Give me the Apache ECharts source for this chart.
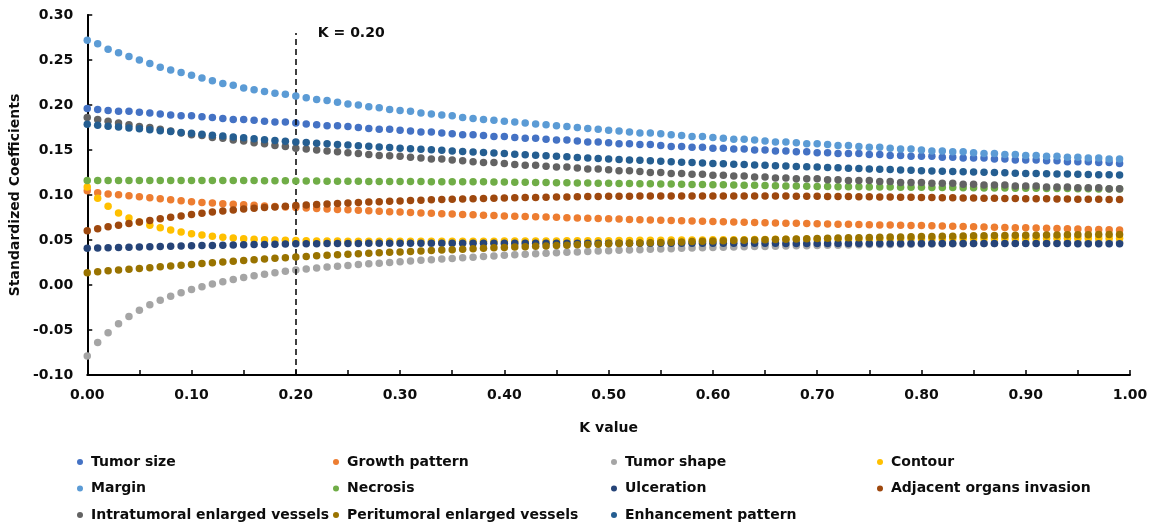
<!DOCTYPE html>
<html>
<head>
<meta charset="utf-8">
<script src="https://cdn.jsdelivr.net/npm/echarts@6/dist/echarts.min.js"></script>
<style>
html,body{margin:0;padding:0;background:#fff;}
#chart{width:1153px;height:527px;}
</style>
</head>
<body>
<div id="chart"></div>
<script>
// K values (x)
const kValues = [
 0.00,0.01,0.02,0.03,0.04,0.05,0.06,0.07,0.08,0.09,
 0.10,0.11,0.12,0.13,0.14,0.15,0.16,0.17,0.18,0.19,
 0.20,0.21,0.22,0.23,0.24,0.25,0.26,0.27,0.28,0.29,
 0.30,0.31,0.32,0.33,0.34,0.35,0.36,0.37,0.38,0.39,
 0.40,0.41,0.42,0.43,0.44,0.45,0.46,0.47,0.48,0.49,
 0.50,0.51,0.52,0.53,0.54,0.55,0.56,0.57,0.58,0.59,
 0.60,0.61,0.62,0.63,0.64,0.65,0.66,0.67,0.68,0.69,
 0.70,0.71,0.72,0.73,0.74,0.75,0.76,0.77,0.78,0.79,
 0.80,0.81,0.82,0.83,0.84,0.85,0.86,0.87,0.88,0.89,
 0.90,0.91,0.92,0.93,0.94,0.95,0.96,0.97,0.98,0.99
];

const tumorSize = [
 0.196,0.195,0.194,0.193,0.193,0.192,0.191,0.190,0.189,0.188,
 0.188,0.187,0.186,0.185,0.184,0.184,0.183,0.182,0.181,0.181,
 0.180,0.179,0.178,0.177,0.177,0.176,0.175,0.174,0.173,0.173,
 0.172,0.171,0.170,0.170,0.169,0.168,0.167,0.167,0.166,0.165,
 0.165,0.164,0.163,0.163,0.162,0.161,0.161,0.160,0.159,0.159,
 0.158,0.157,0.157,0.156,0.156,0.155,0.154,0.154,0.153,0.153,
 0.152,0.152,0.151,0.151,0.150,0.150,0.149,0.149,0.148,0.148,
 0.147,0.147,0.146,0.146,0.146,0.145,0.145,0.144,0.144,0.143,
 0.143,0.143,0.142,0.142,0.141,0.141,0.141,0.140,0.140,0.139,
 0.139,0.139,0.138,0.138,0.137,0.137,0.137,0.136,0.136,0.135
];

const growthPattern = [
 0.1048,0.1026,0.1011,0.1004,0.0993,0.0981,0.0970,0.0959,0.0948,0.0937,
 0.0926,0.0918,0.0911,0.0904,0.0897,0.0891,0.0885,0.0879,0.0873,0.0866,
 0.0860,0.0855,0.0850,0.0845,0.0840,0.0835,0.0830,0.0825,0.0820,0.0815,
 0.0810,0.0805,0.0800,0.0796,0.0792,0.0788,0.0784,0.0780,0.0776,0.0772,
 0.0768,0.0765,0.0762,0.0758,0.0755,0.0752,0.0748,0.0745,0.0742,0.0738,
 0.0735,0.0732,0.0729,0.0726,0.0723,0.0720,0.0717,0.0714,0.0711,0.0708,
 0.0705,0.0702,0.0700,0.0697,0.0695,0.0692,0.0690,0.0687,0.0685,0.0682,
 0.0680,0.0678,0.0676,0.0674,0.0672,0.0670,0.0668,0.0666,0.0664,0.0662,
 0.0660,0.0657,0.0655,0.0652,0.0650,0.0647,0.0645,0.0642,0.0640,0.0637,
 0.0635,0.0632,0.0630,0.0627,0.0624,0.0621,0.0618,0.0616,0.0613,0.0610
];

const tumorShape = [
 -0.0790,-0.0640,-0.0530,-0.0430,-0.0350,-0.0280,-0.0220,-0.0170,-0.0125,-0.0085,
 -0.0050,-0.0020,0.0010,0.0036,0.0060,0.0082,0.0102,0.0120,0.0137,0.0152,
 0.0167,0.0178,0.0189,0.0199,0.0209,0.0218,0.0227,0.0235,0.0243,0.0251,
 0.0258,0.0266,0.0274,0.0281,0.0288,0.0295,0.0302,0.0309,0.0316,0.0323,
 0.0330,0.0336,0.0342,0.0348,0.0353,0.0358,0.0363,0.0368,0.0373,0.0377,
 0.0381,0.0385,0.0389,0.0393,0.0397,0.0401,0.0404,0.0407,0.0410,0.0413,
 0.0416,0.0419,0.0422,0.0425,0.0427,0.0429,0.0431,0.0433,0.0435,0.0437,
 0.0439,0.0441,0.0443,0.0445,0.0447,0.0449,0.0450,0.0451,0.0453,0.0454,
 0.0455,0.0456,0.0457,0.0458,0.0459,0.0460,0.0461,0.0462,0.0463,0.0464,
 0.0465,0.0466,0.0467,0.0468,0.0469,0.0470,0.0470,0.0471,0.0471,0.0472
];

const contour = [
 0.1090,0.0965,0.0875,0.0800,0.0745,0.0700,0.0665,0.0635,0.0610,0.0588,
 0.0570,0.0555,0.0542,0.0531,0.0522,0.0515,0.0509,0.0504,0.0500,0.0497,
 0.0494,0.0492,0.0490,0.0489,0.0488,0.0487,0.0486,0.0486,0.0486,0.0486,
 0.0486,0.0486,0.0486,0.0486,0.0486,0.0486,0.0487,0.0487,0.0487,0.0487,
 0.0488,0.0488,0.0489,0.0489,0.0490,0.0490,0.0491,0.0491,0.0492,0.0492,
 0.0493,0.0494,0.0495,0.0496,0.0497,0.0498,0.0499,0.0500,0.0500,0.0501,
 0.0502,0.0503,0.0504,0.0504,0.0505,0.0506,0.0507,0.0507,0.0508,0.0509,
 0.0509,0.0510,0.0510,0.0511,0.0511,0.0512,0.0512,0.0513,0.0513,0.0514,
 0.0514,0.0515,0.0515,0.0516,0.0516,0.0516,0.0517,0.0517,0.0517,0.0518,
 0.0518,0.0518,0.0519,0.0519,0.0519,0.0520,0.0520,0.0520,0.0520,0.0520
];

const margin = [
 0.272,0.268,0.262,0.258,0.254,0.250,0.246,0.242,0.239,0.236,
 0.233,0.230,0.227,0.224,0.222,0.219,0.217,0.215,0.213,0.212,
 0.210,0.208,0.206,0.205,0.203,0.201,0.200,0.198,0.197,0.195,
 0.194,0.193,0.191,0.190,0.189,0.188,0.186,0.185,0.184,0.183,
 0.182,0.181,0.180,0.179,0.178,0.177,0.176,0.175,0.174,0.173,
 0.172,0.171,0.170,0.169,0.169,0.168,0.167,0.166,0.165,0.165,
 0.164,0.163,0.162,0.162,0.161,0.160,0.159,0.159,0.158,0.157,
 0.157,0.156,0.155,0.155,0.154,0.153,0.153,0.152,0.151,0.151,
 0.150,0.149,0.149,0.148,0.148,0.147,0.146,0.146,0.145,0.145,
 0.144,0.144,0.143,0.143,0.142,0.142,0.141,0.141,0.140,0.140
];

const necrosis = [
 0.1160,0.1160,0.1160,0.1160,0.1160,0.1160,0.1160,0.1160,0.1160,0.1160,
 0.1160,0.1160,0.1160,0.1160,0.1160,0.1160,0.1160,0.1159,0.1158,0.1157,
 0.1156,0.1155,0.1155,0.1154,0.1153,0.1153,0.1152,0.1151,0.1151,0.1150,
 0.1150,0.1149,0.1149,0.1148,0.1148,0.1147,0.1147,0.1146,0.1146,0.1145,
 0.1145,0.1143,0.1142,0.1140,0.1139,0.1137,0.1136,0.1134,0.1133,0.1131,
 0.1130,0.1128,0.1127,0.1125,0.1124,0.1122,0.1121,0.1119,0.1118,0.1116,
 0.1115,0.1113,0.1111,0.1109,0.1107,0.1105,0.1103,0.1101,0.1099,0.1097,
 0.1095,0.1094,0.1093,0.1092,0.1091,0.1090,0.1089,0.1088,0.1087,0.1086,
 0.1085,0.1084,0.1083,0.1082,0.1081,0.1080,0.1079,0.1078,0.1077,0.1076,
 0.1075,0.1074,0.1073,0.1072,0.1071,0.1070,0.1069,0.1068,0.1067,0.1066
];

const ulceration = [
 0.0407,0.0410,0.0413,0.0416,0.0419,0.0422,0.0425,0.0428,0.0430,0.0433,
 0.0436,0.0438,0.0440,0.0443,0.0445,0.0447,0.0449,0.0451,0.0453,0.0455,
 0.0457,0.0458,0.0459,0.0460,0.0461,0.0462,0.0462,0.0463,0.0463,0.0464,
 0.0464,0.0464,0.0465,0.0465,0.0465,0.0465,0.0465,0.0465,0.0465,0.0465,
 0.0465,0.0465,0.0465,0.0465,0.0465,0.0465,0.0465,0.0465,0.0464,0.0464,
 0.0464,0.0464,0.0464,0.0464,0.0464,0.0464,0.0464,0.0464,0.0463,0.0463,
 0.0463,0.0463,0.0463,0.0463,0.0463,0.0463,0.0463,0.0462,0.0462,0.0462,
 0.0462,0.0462,0.0462,0.0462,0.0462,0.0462,0.0461,0.0461,0.0461,0.0461,
 0.0461,0.0461,0.0461,0.0461,0.0461,0.0460,0.0460,0.0460,0.0460,0.0460,
 0.0460,0.0460,0.0460,0.0460,0.0460,0.0459,0.0459,0.0459,0.0459,0.0459
];

const adjacentInvasion = [
 0.0604,0.0626,0.0646,0.0665,0.0683,0.0700,0.0718,0.0735,0.0752,0.0768,
 0.0784,0.0798,0.0811,0.0823,0.0834,0.0844,0.0853,0.0861,0.0868,0.0875,
 0.0882,0.0888,0.0894,0.0900,0.0906,0.0911,0.0916,0.0921,0.0926,0.0930,
 0.0934,0.0938,0.0942,0.0946,0.0949,0.0952,0.0955,0.0958,0.0961,0.0964,
 0.0967,0.0969,0.0971,0.0973,0.0975,0.0977,0.0979,0.0980,0.0982,0.0983,
 0.0985,0.0986,0.0987,0.0988,0.0988,0.0989,0.0989,0.0990,0.0990,0.0990,
 0.0990,0.0990,0.0990,0.0990,0.0989,0.0989,0.0988,0.0988,0.0987,0.0986,
 0.0985,0.0984,0.0983,0.0982,0.0981,0.0980,0.0978,0.0977,0.0976,0.0974,
 0.0973,0.0971,0.0970,0.0969,0.0967,0.0966,0.0964,0.0963,0.0962,0.0960,
 0.0959,0.0958,0.0957,0.0956,0.0955,0.0954,0.0953,0.0952,0.0951,0.0950
];

const intratumoralVessels = [
 0.186,0.184,0.182,0.180,0.178,0.176,0.175,0.173,0.171,0.169,
 0.167,0.166,0.164,0.163,0.161,0.160,0.158,0.157,0.155,0.154,
 0.152,0.151,0.150,0.149,0.148,0.147,0.146,0.145,0.144,0.1435,
 0.143,0.142,0.141,0.140,0.140,0.139,0.138,0.137,0.136,0.136,
 0.135,0.134,0.133,0.133,0.132,0.131,0.131,0.130,0.129,0.129,
 0.128,0.127,0.127,0.126,0.125,0.125,0.124,0.124,0.123,0.123,
 0.122,0.122,0.121,0.121,0.120,0.120,0.119,0.119,0.118,0.118,
 0.118,0.117,0.117,0.116,0.116,0.116,0.115,0.115,0.114,0.114,
 0.114,0.113,0.113,0.113,0.112,0.112,0.111,0.111,0.111,0.110,
 0.110,0.110,0.109,0.109,0.109,0.108,0.108,0.108,0.107,0.107
];

const peritumoralVessels = [
 0.0137,0.0148,0.0157,0.0166,0.0175,0.0184,0.0193,0.0202,0.0211,0.0220,
 0.0229,0.0238,0.0247,0.0256,0.0264,0.0272,0.0280,0.0288,0.0296,0.0304,
 0.0312,0.0318,0.0324,0.0330,0.0336,0.0342,0.0348,0.0353,0.0358,0.0363,
 0.0368,0.0373,0.0378,0.0383,0.0388,0.0393,0.0398,0.0403,0.0408,0.0413,
 0.0418,0.0422,0.0426,0.0430,0.0434,0.0438,0.0442,0.0446,0.0450,0.0454,
 0.0458,0.0461,0.0464,0.0467,0.0470,0.0473,0.0476,0.0479,0.0482,0.0485,
 0.0488,0.0491,0.0494,0.0497,0.0500,0.0503,0.0506,0.0509,0.0512,0.0515,
 0.0518,0.0520,0.0522,0.0524,0.0526,0.0528,0.0530,0.0532,0.0534,0.0536,
 0.0538,0.0540,0.0542,0.0543,0.0545,0.0546,0.0548,0.0549,0.0551,0.0552,
 0.0553,0.0554,0.0555,0.0556,0.0557,0.0558,0.0559,0.0560,0.0561,0.0562
];

const enhancementPattern = [
 0.1785,0.1775,0.1765,0.1755,0.1745,0.1735,0.1725,0.1715,0.1705,0.1695,
 0.1685,0.1675,0.1665,0.1655,0.1645,0.1635,0.1625,0.1615,0.1605,0.1598,
 0.1590,0.1583,0.1576,0.1569,0.1562,0.1555,0.1548,0.1541,0.1534,0.1527,
 0.1520,0.1514,0.1508,0.1502,0.1496,0.1490,0.1484,0.1478,0.1472,0.1466,
 0.1460,0.1454,0.1448,0.1442,0.1436,0.1430,0.1424,0.1418,0.1412,0.1406,
 0.1400,0.1395,0.1390,0.1385,0.1380,0.1375,0.1370,0.1365,0.1360,0.1355,
 0.1350,0.1346,0.1342,0.1338,0.1334,0.1330,0.1326,0.1322,0.1318,0.1314,
 0.1310,0.1306,0.1302,0.1298,0.1294,0.1290,0.1286,0.1282,0.1278,0.1274,
 0.1270,0.1267,0.1264,0.1261,0.1258,0.1255,0.1252,0.1249,0.1246,0.1243,
 0.1240,0.1238,0.1236,0.1234,0.1232,0.1230,0.1228,0.1226,0.1224,0.1222
];

const seriesNames = [
 'Tumor size','Growth pattern','Tumor shape','Contour','Margin','Necrosis',
 'Ulceration','Adjacent organs invasion','Intratumoral enlarged vessels',
 'Peritumoral enlarged vessels','Enhancement pattern'
];
const seriesValues = [
 tumorSize, growthPattern, tumorShape, contour, margin, necrosis,
 ulceration, adjacentInvasion, intratumoralVessels, peritumoralVessels, enhancementPattern
];
const seriesColors = [
 '#4472C4','#ED7D31','#A5A5A5','#FFC000','#5B9BD5','#70AD47',
 '#264478','#9E480E','#636363','#997300','#255E91'
];

// chosen K marker
const chosenK = 0.20;
const chosenKLabel = 'K = 0.20';
const markerTop = 0.28;

const FONT = 'DejaVu Sans';
const TXT = '#0d0d0d';

const chart = echarts.init(document.getElementById('chart'), null, {renderer:'canvas'});

const series = seriesNames.map((name, i) => ({
  name: name,
  type: 'scatter',
  symbol: 'circle',
  symbolSize: 7.5,
  itemStyle: {color: seriesColors[i], opacity: 1},
  data: kValues.map((k, j) => [k, seriesValues[i][j]]),
  z: 2 + i,
  silent: true
}));

series.push({
  name: 'marker',
  type: 'scatter',
  data: [],
  silent: true,
  markLine: {
    symbol: ['none','none'],
    silent: true,
    animation: false,
    label: {show: false},
    lineStyle: {color: '#000', width: 1.5, type: [6, 4]},
    data: [[{coord: [chosenK, -0.1]}, {coord: [chosenK, markerTop]}]]
  },
  markPoint: {
    symbol: 'circle',
    symbolSize: 0,
    silent: true,
    animation: false,
    label: {
      show: true, position: 'right', distance: 22,
      formatter: chosenKLabel,
      color: TXT, fontFamily: FONT, fontWeight: 'bold', fontSize: 14
    },
    data: [{coord: [chosenK, markerTop]}]
  }
});

const legendCols = [
  {left: 77, data: ['Tumor size','Margin','Intratumoral enlarged vessels']},
  {left: 333, data: ['Growth pattern','Necrosis','Peritumoral enlarged vessels']},
  {left: 611, data: ['Tumor shape','Ulceration','Enhancement pattern']},
  {left: 877, data: ['Contour','Adjacent organs invasion']}
];

const option = {
  animation: false,
  backgroundColor: '#fff',
  grid: {left: 86, right: 23, top: 15, bottom: 152, containLabel: false},
  xAxis: {
    type: 'value', min: 0, max: 1, interval: 0.05,
    name: 'K value', nameLocation: 'middle', nameGap: 46,
    nameTextStyle: {color: TXT, fontFamily: FONT, fontWeight: 'bold', fontSize: 14},
    axisLine: {show: true, onZero: false, lineStyle: {color: '#000', width: 2}},
    axisTick: {show: true, inside: true, length: 5, lineStyle: {color: '#000', width: 1.5}},
    axisLabel: {
      color: TXT, fontFamily: FONT, fontWeight: 'bold', fontSize: 14, margin: 13,
      formatter: v => (Math.round(v * 100) % 10 === 0 ? v.toFixed(2) : '')
    },
    splitLine: {show: false}
  },
  yAxis: {
    type: 'value', min: -0.1, max: 0.3, interval: 0.05,
    name: 'Standardized Coefficients', nameLocation: 'middle', nameGap: 61, nameRotate: 90,
    nameTextStyle: {color: TXT, fontFamily: FONT, fontWeight: 'bold', fontSize: 14},
    axisLine: {show: true, onZero: false, lineStyle: {color: '#000', width: 2}},
    axisTick: {show: true, inside: true, length: 5, lineStyle: {color: '#000', width: 1.5}},
    axisLabel: {
      color: TXT, fontFamily: FONT, fontWeight: 'bold', fontSize: 14, margin: 14,
      formatter: v => v.toFixed(2)
    },
    splitLine: {show: false}
  },
  legend: legendCols.map(c => ({
    orient: 'vertical', left: c.left, top: 455, padding: 0, height: 72,
    data: c.data, icon: 'circle', itemWidth: 6, itemHeight: 6, itemGap: 12.5,
    selectedMode: false,
    textStyle: {color: TXT, fontFamily: FONT, fontWeight: 'bold', fontSize: 14, lineHeight: 14, padding: [0, 0, 0, 3]}
  })),
  series: series
};

chart.setOption(option);
</script>
</body>
</html>
